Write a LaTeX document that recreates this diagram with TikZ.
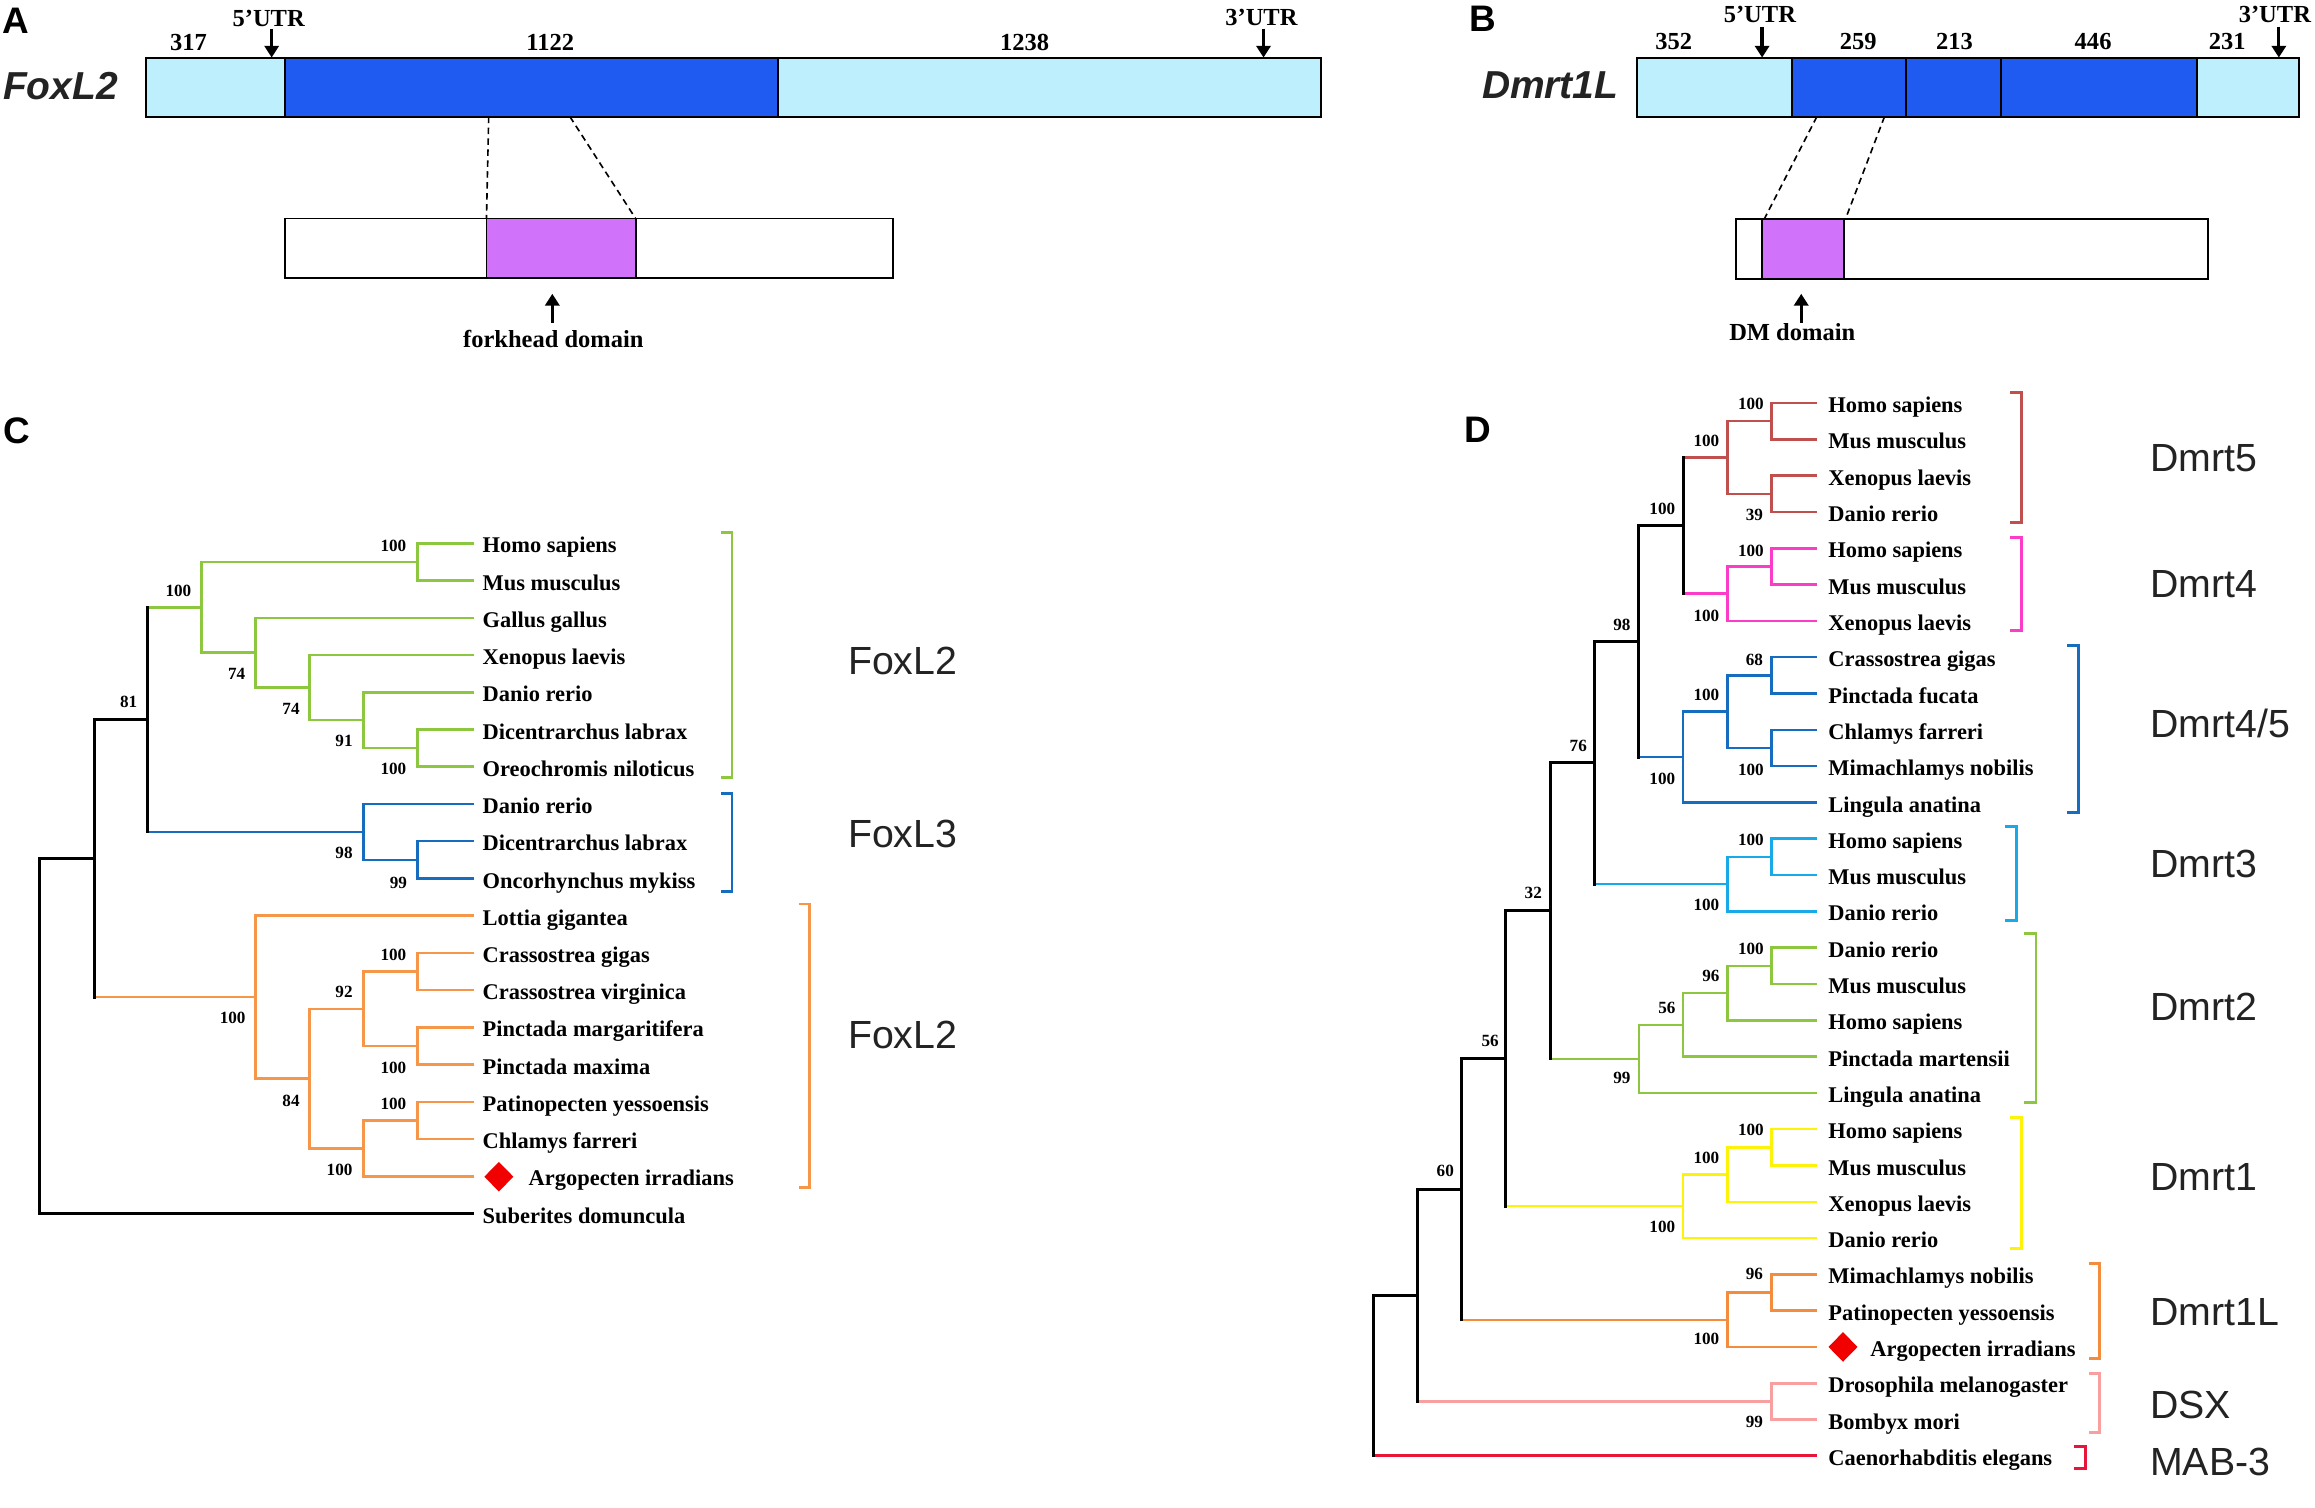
\documentclass[tikz,border=0pt]{standalone}
\usepackage{fontspec}
\setmainfont{Liberation Serif}
\newfontfamily\sansfam{Liberation Sans}
\usetikzlibrary{arrows.meta,shapes.geometric}
\definecolor{lblue}{RGB}{190,239,252}
\definecolor{dblue}{RGB}{31,91,240}
\definecolor{dompink}{RGB}{208,114,250}
\definecolor{cgreen}{RGB}{141,198,63}
\definecolor{cblue}{RGB}{22,108,190}
\definecolor{corange}{RGB}{246,150,72}
\definecolor{cbrown}{RGB}{192,80,77}
\definecolor{cmag}{RGB}{250,60,200}
\definecolor{ccyan}{RGB}{24,170,232}
\definecolor{cyellow}{RGB}{252,242,10}
\definecolor{corangeb}{RGB}{244,140,62}
\definecolor{cpink}{RGB}{248,160,160}
\definecolor{cred}{RGB}{232,20,58}
\definecolor{dred}{RGB}{240,0,0}
\definecolor{txt}{RGB}{35,35,35}
\newcommand{\TVert}[4]{\draw[#1] (#2 |- #3) -- (#2 |- #4);}
\newcommand{\TEdge}[3]{\draw[#1] (#2 |- #3) -- (#3);}
\tikzset{
  bar/.style={draw=black, line width=0.65pt},
  dashln/.style={draw=black, line width=0.55pt, dash pattern=on 2.2pt off 1.5pt},
  arr/.style={draw=black, line width=1.1pt, -{Triangle[length=4pt,width=4.8pt]}},
  lbl/.style={font=\fontsize{8.3}{10}\selectfont\bfseries, inner sep=0pt, text=black},
  gene/.style={font=\sansfam\fontsize{13.2}{15}\selectfont\bfseries\itshape, inner sep=0pt, text=txt},
  panel/.style={font=\sansfam\fontsize{12.5}{14}\selectfont\bfseries, inner sep=0pt, text=black},
  sp/.style={font=\fontsize{7.6}{9}\selectfont\bfseries, inner sep=0pt, anchor=base west, text=black},
  bs/.style={font=\fontsize{5.8}{7}\selectfont\bfseries, inner sep=0pt, text=black},
  clade/.style={font=\sansfam\fontsize{13.3}{15}\selectfont, inner sep=0pt, anchor=west, text=txt},
  br/.style={line width=1pt},
  tr/.style={line width=0.85pt, line cap=rect},
  trk/.style={line width=1pt, line cap=rect, draw=black},
  dia/.style={diamond, fill=dred, inner sep=0pt, minimum width=10pt, minimum height=10.2pt},
}
\begin{document}
\begin{tikzpicture}[x=0.5pt,y=-0.5pt]
\fill[white] (0,0) rectangle (1568,1021.4);
\useasboundingbox (0,0) rectangle (1568,1021.4);

% ---------------- Panel A ----------------
\node[panel] (pA) at (10.5,14) {A};
\node[gene] (gA) at (41,58) {FoxL2};
\draw[bar,fill=lblue] (99,39) rectangle (193,79);
\draw[bar,fill=dblue] (193,39) rectangle (527,79);
\draw[bar,fill=lblue] (527,39) rectangle (895,79);
\draw[bar,fill=white] (193,148) rectangle (605,188);
\draw[bar,fill=dompink] (329.5,148) rectangle (430.5,188);
\coordinate (a1) at (331,79); \coordinate (a2) at (329.5,148);
\coordinate (a3) at (386,79); \coordinate (a4) at (430.5,148);
\draw[dashln] (a1) -- (a2);
\draw[dashln] (a3) -- (a4);
\node[lbl] (a317) at (127.6,29) {317};
\node[lbl] (a1122) at (372.7,29) {1122};
\node[lbl] (a1238) at (694,29) {1238};
\node[lbl] (a5u) at (182,12.7) {5’UTR};
\node[lbl] (a3u) at (854.4,11.6) {3’UTR};
\coordinate (a5t) at (184,19.4); \coordinate (a5b) at (184,39);
\coordinate (a3t) at (855.8,19.4); \coordinate (a3b) at (855.8,39);
\draw[arr] (a5t) -- (a5b);
\draw[arr] (a3t) -- (a3b);
\node[lbl] (afk) at (374.8,229.6) {forkhead domain};
\coordinate (afb) at (374.1,218.5); \coordinate (aft) at (374.1,199);
\draw[arr] (afb) -- (aft);

% ---------------- Panel B ----------------
\node[panel] (pB) at (1004,12.5) {B};
\node[gene] (gB) at (1050,58) {Dmrt1L};
\draw[bar,fill=lblue] (1109,39) rectangle (1213.5,79);
\draw[bar,fill=dblue] (1213.5,39) rectangle (1291.2,79);
\draw[bar,fill=dblue] (1291.2,39) rectangle (1355.2,79);
\draw[bar,fill=dblue] (1355.2,39) rectangle (1488.2,79);
\draw[bar,fill=lblue] (1488.2,39) rectangle (1557,79);
\draw[bar,fill=white] (1176,148.3) rectangle (1495.7,189);
\draw[bar,fill=dompink] (1193.5,148.3) rectangle (1249,189);
\coordinate (b1) at (1230.6,79); \coordinate (b2) at (1195,148.3);
\coordinate (b3) at (1276.4,79); \coordinate (b4) at (1250,148.3);
\draw[dashln] (b1) -- (b2);
\draw[dashln] (b3) -- (b4);
\node[lbl] (b352) at (1133.6,28.3) {352};
\node[lbl] (b259) at (1258.6,28.3) {259};
\node[lbl] (b213) at (1323.8,28.3) {213};
\node[lbl] (b446) at (1417.7,28.3) {446};
\node[lbl] (b231) at (1508.6,28.3) {231};
\node[lbl] (b5u) at (1192,10) {5’UTR};
\node[lbl] (b3u) at (1540.8,10) {3’UTR};
\coordinate (b5t) at (1193.5,18); \coordinate (b5b) at (1193.5,39);
\coordinate (b3t) at (1543.5,18); \coordinate (b3b) at (1543.5,39);
\draw[arr] (b5t) -- (b5b);
\draw[arr] (b3t) -- (b3b);
\node[lbl] (bdm) at (1213.9,224.8) {DM domain};
\coordinate (bdb) at (1220,218.5); \coordinate (bdt) at (1220,199);
\draw[arr] (bdb) -- (bdt);

% ---------------- Panel C ----------------
\node[panel] (pC) at (11.5,292) {C};
\foreach \i/\nm in {0/Homo sapiens,1/Mus musculus,2/Gallus gallus,3/Xenopus laevis,4/Danio rerio,5/Dicentrarchus labrax,6/Oreochromis niloticus,7/Danio rerio,8/Dicentrarchus labrax,9/Oncorhynchus mykiss,10/Lottia gigantea,11/Crassostrea gigas,12/Crassostrea virginica,13/Pinctada margaritifera,14/Pinctada maxima,15/Patinopecten yessoensis,16/Chlamys farreri,18/Suberites domuncula}{
  \coordinate (cl\i) at (320,{368+\i*25.22});
  \node[sp] (cs\i) at (326.5,{368+\i*25.22+6.5}) {\nm};
}
\coordinate (cl17) at (320,796.74);
\node[dia] (cdia) at (337.9,797) {};
\node[sp] (cs17) at (357.7,803.2) {Argopecten irradians};

\coordinate (nHM) at (282.7,380.6);
\coordinate (nDO) at (282.7,506.7);
\coordinate (nD91) at (246.1,487.8);
\coordinate (nX74) at (209.6,465.7);
\coordinate (nG74) at (173.1,442.05);
\coordinate (nV) at (136.6,411.3);
\coordinate (nLDO) at (282.7,582.4);
\coordinate (nL3) at (246.1,563.45);
\coordinate (n81) at (100,487.4);
\coordinate (nC) at (282.7,658.0);
\coordinate (nP) at (282.7,708.5);
\coordinate (n92) at (246.1,683.25);
\coordinate (nPC) at (282.7,758.9);
\coordinate (nS) at (246.1,777.8);
\coordinate (n84) at (209.6,730.5);
\coordinate (nO) at (173.1,675.35);
\coordinate (nL1) at (63.9,581.4);
\coordinate (nR) at (27,700);

% green FoxL2
\TVert{tr,cgreen}{nHM}{cl0}{cl1} \TEdge{tr,cgreen}{nHM}{cl0} \TEdge{tr,cgreen}{nHM}{cl1}
\TVert{tr,cgreen}{nDO}{cl5}{cl6} \TEdge{tr,cgreen}{nDO}{cl5} \TEdge{tr,cgreen}{nDO}{cl6}
\TVert{tr,cgreen}{nD91}{cl4}{nDO} \TEdge{tr,cgreen}{nD91}{cl4} \TEdge{tr,cgreen}{nD91}{nDO}
\TVert{tr,cgreen}{nX74}{cl3}{nD91} \TEdge{tr,cgreen}{nX74}{cl3} \TEdge{tr,cgreen}{nX74}{nD91}
\TVert{tr,cgreen}{nG74}{cl2}{nX74} \TEdge{tr,cgreen}{nG74}{cl2} \TEdge{tr,cgreen}{nG74}{nX74}
\TVert{tr,cgreen}{nV}{nHM}{nG74} \TEdge{tr,cgreen}{nV}{nHM} \TEdge{tr,cgreen}{nV}{nG74}
% blue FoxL3
\TVert{tr,cblue}{nLDO}{cl8}{cl9} \TEdge{tr,cblue}{nLDO}{cl8} \TEdge{tr,cblue}{nLDO}{cl9}
\TVert{tr,cblue}{nL3}{cl7}{nLDO} \TEdge{tr,cblue}{nL3}{cl7} \TEdge{tr,cblue}{nL3}{nLDO}
\TEdge{tr,cgreen}{n81}{nV} \TEdge{tr,cblue}{n81}{nL3}
\TVert{trk}{n81}{nV}{nL3}
% orange
\TVert{tr,corange}{nC}{cl11}{cl12} \TEdge{tr,corange}{nC}{cl11} \TEdge{tr,corange}{nC}{cl12}
\TVert{tr,corange}{nP}{cl13}{cl14} \TEdge{tr,corange}{nP}{cl13} \TEdge{tr,corange}{nP}{cl14}
\TVert{tr,corange}{n92}{nC}{nP} \TEdge{tr,corange}{n92}{nC} \TEdge{tr,corange}{n92}{nP}
\TVert{tr,corange}{nPC}{cl15}{cl16} \TEdge{tr,corange}{nPC}{cl15} \TEdge{tr,corange}{nPC}{cl16}
\TVert{tr,corange}{nS}{nPC}{cl17} \TEdge{tr,corange}{nS}{nPC} \TEdge{tr,corange}{nS}{cl17}
\TVert{tr,corange}{n84}{n92}{nS} \TEdge{tr,corange}{n84}{n92} \TEdge{tr,corange}{n84}{nS}
\TVert{tr,corange}{nO}{cl10}{n84} \TEdge{tr,corange}{nO}{cl10} \TEdge{tr,corange}{nO}{n84}
\TEdge{trk}{nL1}{n81} \TEdge{tr,corange}{nL1}{nO}
\TVert{trk}{nL1}{n81}{nO}
\TEdge{trk}{nR}{nL1} \TEdge{trk}{nR}{cl18}
\TVert{trk}{nR}{nL1}{cl18}

\foreach \x/\y/\t [count=\k] in {266.5/369.6/100,120.8/400/100,160.3/456.3/74,197.1/480.4/74,233/501.7/91,266.5/520.8/100,87.2/475.4/81,233/577.6/98,269.8/597.7/99,157.6/689.6/100,233/672/92,266.5/646.8/100,266.5/723.4/100,197.1/745.4/84,266.5/747.7/100,230/792.7/100}{
  \node[bs] (cb\k) at (\x,\y) {\t};
}

% brackets C
\coordinate (cbg1) at (488.3,360.8); \coordinate (cbg2) at (495.8,360.8); \coordinate (cbg3) at (495.8,526.4); \coordinate (cbg4) at (488.3,526.4);
\draw[br,cgreen] (cbg1) -- (cbg2) -- (cbg3) -- (cbg4);
\coordinate (cbb1) at (488.3,537.2); \coordinate (cbb2) at (495.8,537.2); \coordinate (cbb3) at (495.8,603.6); \coordinate (cbb4) at (488.3,603.6);
\draw[br,cblue] (cbb1) -- (cbb2) -- (cbb3) -- (cbb4);
\coordinate (cbo1) at (541.3,612.3); \coordinate (cbo2) at (548.4,612.3); \coordinate (cbo3) at (548.4,804.5); \coordinate (cbo4) at (541.3,804.5);
\draw[br,corange] (cbo1) -- (cbo2) -- (cbo3) -- (cbo4);
\node[clade] (cfox1) at (574,448) {FoxL2};
\node[clade] (cfox3) at (574,565) {FoxL3};
\node[clade] (cfox2) at (574,701) {FoxL2};

% ---------------- Panel D ----------------
\node[panel] (pD) at (1001,291) {D};
\foreach \i/\nm in {0/Homo sapiens,1/Mus musculus,2/Xenopus laevis,3/Danio rerio,4/Homo sapiens,5/Mus musculus,6/Xenopus laevis,7/Crassostrea gigas,8/Pinctada fucata,9/Chlamys farreri,10/Mimachlamys nobilis,11/Lingula anatina,12/Homo sapiens,13/Mus musculus,14/Danio rerio,15/Danio rerio,16/Mus musculus,17/Homo sapiens,18/Pinctada martensii,19/Lingula anatina,20/Homo sapiens,21/Mus musculus,22/Xenopus laevis,23/Danio rerio,24/Mimachlamys nobilis,25/Patinopecten yessoensis,27/Drosophila melanogaster,28/Bombyx mori,29/Caenorhabditis elegans}{
  \coordinate (dl\i) at (1230,{273+\i*24.59});
  \node[sp] (ds\i) at (1238,{273+\i*24.59+6.5}) {\nm};
}
\coordinate (dl26) at (1230,912.34);
\node[dia] (ddia) at (1248.3,912.3) {};
\node[sp] (ds26) at (1266.5,918.8) {Argopecten irradians};

\coordinate (d5a) at (1200,285.3);
\coordinate (d5b) at (1200,334.5);
\coordinate (d5) at (1170,309.9);
\coordinate (d4a) at (1200,383.66);
\coordinate (d4) at (1170,402.1);
\coordinate (d54) at (1140,356.0);
\coordinate (d45a) at (1200,457.4);
\coordinate (d45b) at (1200,506.6);
\coordinate (d45c) at (1170,482.0);
\coordinate (d45) at (1140,512.75);
\coordinate (d98) at (1110,434.4);
\coordinate (d3a) at (1200,580.4);
\coordinate (d3) at (1170,598.8);
\coordinate (d76) at (1080,516.6);
\coordinate (d2a) at (1200,654.15);
\coordinate (d2b) at (1170,672.6);
\coordinate (d2c) at (1140,694.1);
\coordinate (d2) at (1110,717.16);
\coordinate (d32) at (1050,616.9);
\coordinate (d1a) at (1200,777.1);
\coordinate (d1b) at (1170,795.5);
\coordinate (d1) at (1140,817.0);
\coordinate (d56) at (1020,716.95);
\coordinate (dLa) at (1200,875.45);
\coordinate (dL) at (1170,893.9);
\coordinate (d60) at (990,805.4);
\coordinate (dDSX) at (1200,949.2);
\coordinate (dX) at (960,877.3);
\coordinate (dR) at (930,900);

% Dmrt5
\TVert{tr,cbrown}{d5a}{dl0}{dl1} \TEdge{tr,cbrown}{d5a}{dl0} \TEdge{tr,cbrown}{d5a}{dl1}
\TVert{tr,cbrown}{d5b}{dl2}{dl3} \TEdge{tr,cbrown}{d5b}{dl2} \TEdge{tr,cbrown}{d5b}{dl3}
\TVert{tr,cbrown}{d5}{d5a}{d5b} \TEdge{tr,cbrown}{d5}{d5a} \TEdge{tr,cbrown}{d5}{d5b}
% Dmrt4
\TVert{tr,cmag}{d4a}{dl4}{dl5} \TEdge{tr,cmag}{d4a}{dl4} \TEdge{tr,cmag}{d4a}{dl5}
\TVert{tr,cmag}{d4}{d4a}{dl6} \TEdge{tr,cmag}{d4}{d4a} \TEdge{tr,cmag}{d4}{dl6}
\TEdge{tr,cbrown}{d54}{d5} \TEdge{tr,cmag}{d54}{d4}
\TVert{trk}{d54}{d5}{d4}
% Dmrt4/5
\TVert{tr,cblue}{d45a}{dl7}{dl8} \TEdge{tr,cblue}{d45a}{dl7} \TEdge{tr,cblue}{d45a}{dl8}
\TVert{tr,cblue}{d45b}{dl9}{dl10} \TEdge{tr,cblue}{d45b}{dl9} \TEdge{tr,cblue}{d45b}{dl10}
\TVert{tr,cblue}{d45c}{d45a}{d45b} \TEdge{tr,cblue}{d45c}{d45a} \TEdge{tr,cblue}{d45c}{d45b}
\TVert{tr,cblue}{d45}{d45c}{dl11} \TEdge{tr,cblue}{d45}{d45c} \TEdge{tr,cblue}{d45}{dl11}
\TEdge{trk}{d98}{d54} \TEdge{tr,cblue}{d98}{d45}
\TVert{trk}{d98}{d54}{d45}
% Dmrt3
\TVert{tr,ccyan}{d3a}{dl12}{dl13} \TEdge{tr,ccyan}{d3a}{dl12} \TEdge{tr,ccyan}{d3a}{dl13}
\TVert{tr,ccyan}{d3}{d3a}{dl14} \TEdge{tr,ccyan}{d3}{d3a} \TEdge{tr,ccyan}{d3}{dl14}
\TEdge{trk}{d76}{d98} \TEdge{tr,ccyan}{d76}{d3}
\TVert{trk}{d76}{d98}{d3}
% Dmrt2
\TVert{tr,cgreen}{d2a}{dl15}{dl16} \TEdge{tr,cgreen}{d2a}{dl15} \TEdge{tr,cgreen}{d2a}{dl16}
\TVert{tr,cgreen}{d2b}{d2a}{dl17} \TEdge{tr,cgreen}{d2b}{d2a} \TEdge{tr,cgreen}{d2b}{dl17}
\TVert{tr,cgreen}{d2c}{d2b}{dl18} \TEdge{tr,cgreen}{d2c}{d2b} \TEdge{tr,cgreen}{d2c}{dl18}
\TVert{tr,cgreen}{d2}{d2c}{dl19} \TEdge{tr,cgreen}{d2}{d2c} \TEdge{tr,cgreen}{d2}{dl19}
\TEdge{trk}{d32}{d76} \TEdge{tr,cgreen}{d32}{d2}
\TVert{trk}{d32}{d76}{d2}
% Dmrt1
\TVert{tr,cyellow}{d1a}{dl20}{dl21} \TEdge{tr,cyellow}{d1a}{dl20} \TEdge{tr,cyellow}{d1a}{dl21}
\TVert{tr,cyellow}{d1b}{d1a}{dl22} \TEdge{tr,cyellow}{d1b}{d1a} \TEdge{tr,cyellow}{d1b}{dl22}
\TVert{tr,cyellow}{d1}{d1b}{dl23} \TEdge{tr,cyellow}{d1}{d1b} \TEdge{tr,cyellow}{d1}{dl23}
\TEdge{trk}{d56}{d32} \TEdge{tr,cyellow}{d56}{d1}
\TVert{trk}{d56}{d32}{d1}
% Dmrt1L
\TVert{tr,corangeb}{dLa}{dl24}{dl25} \TEdge{tr,corangeb}{dLa}{dl24} \TEdge{tr,corangeb}{dLa}{dl25}
\TVert{tr,corangeb}{dL}{dLa}{dl26} \TEdge{tr,corangeb}{dL}{dLa} \TEdge{tr,corangeb}{dL}{dl26}
\TEdge{trk}{d60}{d56} \TEdge{tr,corangeb}{d60}{dL}
\TVert{trk}{d60}{d56}{dL}
% DSX
\TVert{tr,cpink}{dDSX}{dl27}{dl28} \TEdge{tr,cpink}{dDSX}{dl27} \TEdge{tr,cpink}{dDSX}{dl28}
\TEdge{trk}{dX}{d60} \TEdge{tr,cpink}{dX}{dDSX}
\TVert{trk}{dX}{d60}{dDSX}
% root
\TEdge{trk}{dR}{dX} \TEdge{tr,cred,line width=1pt}{dR}{dl29}
\TVert{trk}{dR}{dX}{dl29}

\foreach \x/\y/\t [count=\k] in {1185.9/273.9/100,1188.3/349/39,1155.8/298.9/100,1185.9/372.9/100,1155.8/417.1/100,1125.9/345/100,1188.3/446.7/68,1185.9/521.6/100,1155.8/471/100,1125.9/527.7/100,1098.5/423.3/98,1185.9/568.7/100,1155.8/612.7/100,1069/505.4/76,1185.9/642.6/100,1158.8/660.7/96,1129/682.6/56,1098.5/730.3/99,1038.5/604.8/32,1185.9/765.3/100,1155.8/784.3/100,1125.9/830.8/100,1009.3/704.7/56,1188.3/862.6/96,1155.8/907/100,978.9/792.9/60,1188.3/962.8/99}{
  \node[bs] (db\k) at (\x,\y) {\t};
}

% brackets D
\draw[br,cbrown] (1361.7,265.9) -- (1369.3,265.9) -- (1369.3,353.9) -- (1361.7,353.9);
\draw[br,cmag] (1361.7,364.3) -- (1369.3,364.3) -- (1369.3,427) -- (1361.7,427);
\draw[br,cblue] (1400.1,437.4) -- (1407.7,437.4) -- (1407.7,550) -- (1400.1,550);
\draw[br,ccyan] (1357.8,559.6) -- (1365.6,559.6) -- (1365.6,623.6) -- (1357.8,623.6);
\draw[br,cgreen] (1370.9,632.5) -- (1379,632.5) -- (1379,746.7) -- (1370.9,746.7);
\draw[br,cyellow] (1361.7,757) -- (1369.3,757) -- (1369.3,845.5) -- (1361.7,845.5);
\draw[br,corangeb] (1414.6,855.9) -- (1422.2,855.9) -- (1422.2,920.1) -- (1414.6,920.1);
\draw[br,cpink] (1414.6,930.2) -- (1422.2,930.2) -- (1422.2,970) -- (1414.6,970);
\draw[br,cred] (1404.7,979.8) -- (1412.3,979.8) -- (1412.3,994.4) -- (1404.7,994.4);

\node[clade] (dc5) at (1456,310) {Dmrt5};
\node[clade] (dc4) at (1456,395.6) {Dmrt4};
\node[clade] (dc45) at (1456,489.7) {Dmrt4/5};
\node[clade] (dc3) at (1456,585) {Dmrt3};
\node[clade] (dc2) at (1456,682) {Dmrt2};
\node[clade] (dc1) at (1456,797.5) {Dmrt1};
\node[clade] (dc1L) at (1456,888.6) {Dmrt1L};
\node[clade] (dcX) at (1456,951.5) {DSX};
\node[clade] (dcM) at (1456,990) {MAB-3};
\end{tikzpicture}
\end{document}
